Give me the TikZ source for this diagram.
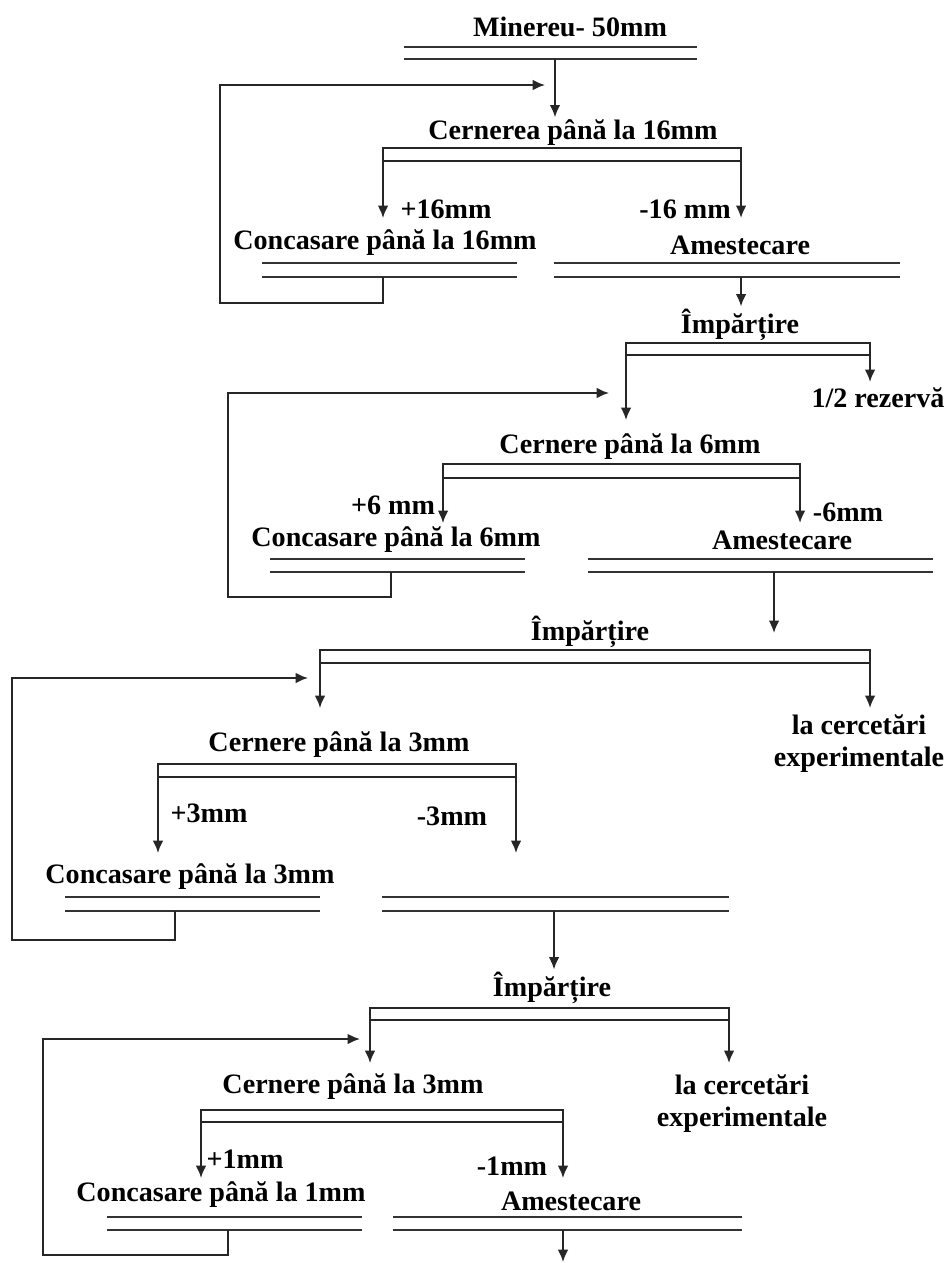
\documentclass[tikz,border=0pt]{standalone}
\usepackage{fontspec}
\setmainfont{Liberation Serif}
\usetikzlibrary{arrows.meta,calc,positioning}

\begin{document}
\begin{tikzpicture}[x=0.02cm,y=-0.02cm,>={Latex[length=7pt,width=6pt]},line width=1.1pt,draw=black!85,
    lbl/.style={font=\fontsize{16}{18.2}\selectfont\bfseries,inner sep=1pt,align=center},
    bar/.style={line width=1.1pt,black!80}]
    \useasboundingbox (0,0) rectangle (947,1263);

    % 50mm -> 16mm
    \node [lbl] (ore) at (570,27) {Minereu- 50mm};
    \draw [bar] (404,47) -- (697,47) (404,59) -- (697,59);
    \coordinate (d0) at (555,59);
    \node [lbl] (sc1) at (573,133) {Cernerea până la 16mm};
    \draw [->] (d0) -- (d0 |- sc1.north);
    \coordinate (s1a) at (383,218);
    \coordinate (s1b) at (741,218);
    \draw [<->] (s1a) -- (383,148) -- (741,148) -- (s1b);
    \draw (383,161) -- (741,161);
    \node [lbl] (pl1) at (446,209) {+16mm};
    \node [lbl] (mi1) at (685,209) {-16 mm};
    \node [lbl] (cr1) at (385,243) {Concasare până la 16mm};
    \draw [bar] (262,263) -- (517,263) (262,277) -- (517,277);
    \node [lbl] (mx1) at (740,245) {Amestecare};
    \draw [bar] (554,263) -- (900,263) (554,277) -- (900,277);
    \coordinate (r1a) at (383,277);
    \coordinate (r1b) at (220,303);
    \coordinate (r1c) at (545,85);
    \draw [->] (r1a) |- (r1b) |- (r1c);
    \node [lbl] (dv1) at (740,325) {Împărțire};
    \coordinate (m1) at (741,277);
    \draw [->] (m1) -- (m1 |- dv1.north);

    % 16mm -> 6mm
    \coordinate (s2a) at (626,420);
    \coordinate (s2b) at (870,382);
    \draw [<->] (s2a) -- (626,343) -- (870,343) -- (s2b);
    \draw (626,355) -- (870,355);
    \node [lbl] (rz2) at (878,398) {1/2 rezervă};
    \node [lbl] (sc2) at (630,447) {Cernere până la 6mm};
    \coordinate (s3a) at (443,523);
    \coordinate (s3b) at (800,523);
    \draw [<->] (s3a) -- (443,464) -- (800,464) -- (s3b);
    \draw (443,478) -- (800,478);
    \node [lbl] (pl2) at (393,505) {+6 mm};
    \node [lbl] (mi2) at (848,512) {-6mm};
    \node [lbl] (cr2) at (396,540) {Concasare până la 6mm};
    \draw [bar] (270,559) -- (525,559) (270,572) -- (525,572);
    \node [lbl] (mx2) at (782,540) {Amestecare};
    \draw [bar] (588,559) -- (933,559) (588,572) -- (933,572);
    \coordinate (r2a) at (391,572);
    \coordinate (r2b) at (228,597);
    \coordinate (r2c) at (609,393);
    \draw [->] (r2a) |- (r2b) |- (r2c);
    \coordinate (m2a) at (774,572);
    \coordinate (m2b) at (774,633);
    \draw [->] (m2a) -- (m2b);

    % 6mm -> 3mm
    \node [lbl] (dv2) at (590,632) {Împărțire};
    \coordinate (s4a) at (320,708);
    \coordinate (s4b) at (870,708);
    \draw [<->] (s4a) -- (320,650) -- (870,650) -- (s4b);
    \draw (320,663) -- (870,663);
    \node [lbl] (ex3) at (859,744) {la cercetări\\experimentale};
    \node [lbl] (sc3) at (339,745) {Cernere până la 3mm};
    \coordinate (s5a) at (158,853);
    \coordinate (s5b) at (516,853);
    \draw [<->] (s5a) -- (158,764) -- (516,764) -- (s5b);
    \draw (158,777) -- (516,777);
    \node [lbl] (pl3) at (209,813) {+3mm};
    \node [lbl] (mi3) at (452,816) {-3mm};
    \node [lbl] (cr3) at (190,877) {Concasare până la 3mm};
    \draw [bar] (65,897) -- (320,897) (65,911) -- (320,911);
    \draw [bar] (382,897) -- (729,897) (382,911) -- (729,911);
    \coordinate (r3a) at (175,911);
    \coordinate (r3b) at (12,940);
    \coordinate (r3c) at (308,678);
    \draw [->] (r3a) |- (r3b) |- (r3c);
    \node [lbl] (dv3) at (552,988) {Împărțire};
    \coordinate (m3) at (554,911);
    \draw [->] (m3) -- (m3 |- dv3.north);

    % 3mm -> 1mm
    \coordinate (s6a) at (370,1063);
    \coordinate (s6b) at (729,1063);
    \draw [<->] (s6a) -- (370,1008) -- (729,1008) -- (s6b);
    \draw (370,1020) -- (729,1020);
    \node [lbl] (sc4) at (353,1087) {Cernere până la 3mm};
    \node [lbl] (ex4) at (742,1104) {la cercetări\\experimentale};
    \coordinate (s7a) at (201,1178);
    \coordinate (s7b) at (563,1178);
    \draw [<->] (s7a) -- (201,1110) -- (563,1110) -- (s7b);
    \draw (201,1122) -- (563,1122);
    \node [lbl] (pl4) at (245,1159) {+1mm};
    \node [lbl] (mi4) at (512,1166) {-1mm};
    \node [lbl] (cr4) at (221,1195) {Concasare până la 1mm};
    \draw [bar] (107,1217) -- (362,1217) (107,1230) -- (362,1230);
    \node [lbl] (mx4) at (571,1201) {Amestecare};
    \draw [bar] (393,1217) -- (742,1217) (393,1230) -- (742,1230);
    \coordinate (r4a) at (228,1230);
    \coordinate (r4b) at (43,1255);
    \coordinate (r4c) at (360,1039);
    \draw [->] (r4a) |- (r4b) |- (r4c);
    \coordinate (m4a) at (563,1230);
    \coordinate (m4b) at (563,1262);
    \draw [->] (m4a) -- (m4b);
\end{tikzpicture}
\end{document}
